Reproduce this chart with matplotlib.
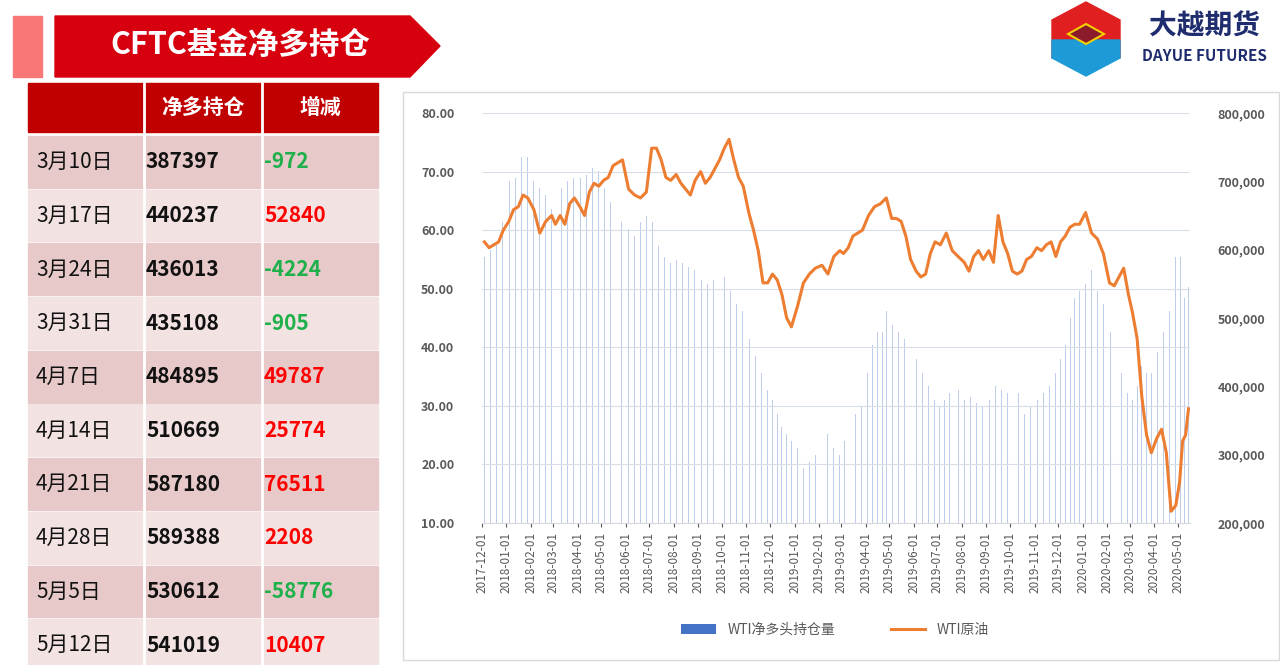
import numpy as np
import pandas as pd
import matplotlib.pyplot as plt
import matplotlib.dates as mdates
from matplotlib.patches import Rectangle, Polygon
from matplotlib.ticker import FuncFormatter

plt.rcParams['font.family'] = ['Noto Sans CJK SC', 'DejaVu Sans']

# table data
dates_cn = ["3月10日", "3月17日", "3月24日", "3月31日", "4月7日",
            "4月14日", "4月21日", "4月28日", "5月5日", "5月12日"]
net_long = ["387397", "440237", "436013", "435108", "484895",
            "510669", "587180", "589388", "530612", "541019"]
change = ["-972", "52840", "-4224", "-905", "49787",
          "25774", "76511", "2208", "-58776", "10407"]

# chart data, grouped by month (Dec 2017 .. May 2020)
months = pd.date_range("2017-12-01", "2020-05-01", freq="MS")
wti_price = [
    [58, 57, 57.5, 58, 60],
    [61.5, 63.5, 64, 66, 65.5], [63.5, 59.5, 61.5, 62.5], [61, 62.5, 61, 64.5, 65.5],
    [64, 62.5, 66.5, 68, 67.5], [68.5, 69, 71, 71.5, 72], [67, 66, 65.5, 66.5],
    [74, 74, 72, 69, 68.5], [69.5, 68, 67, 66, 68.5], [70, 68, 69, 70.5, 72],
    [74, 75.5, 72, 69, 67.5], [63, 60, 56.5, 51, 51], [52.5, 51.5, 49, 45, 43.5],
    [47, 51, 52.5, 53.5], [54, 52.5, 55.5, 56.5], [56, 57, 59, 59.5, 60],
    [62.5, 64, 64.5, 65.5], [62, 62, 61.5, 59, 55], [53, 52, 52.5, 56, 58],
    [57.5, 59.5, 56.5, 55.5], [54.5, 53, 55.5, 56.5, 55], [56.5, 54.5, 62.5, 58, 56],
    [53, 52.5, 53, 55, 55.5], [57, 56.5, 57.5, 58, 55.5], [58, 59, 60.5, 61, 61],
    [63, 59.5, 58.5, 56], [51, 50.5, 52, 53.5, 49], [46, 41.5, 31.5, 25, 22],
    [24.5, 26, 22, 12, 13], [17, 24, 25, 29.5],
]
wti_net_long = [
    [590, 600, 610, 640],
    [700, 705, 735, 735], [700, 690, 680, 660], [680, 690, 700, 705],
    [705, 710, 720, 715], [690, 670, 650, 640], [630, 620, 640, 650],
    [640, 605, 590, 580], [585, 580, 575, 570], [555, 550, 555, 545],
    [560, 540, 520, 510], [470, 445, 420, 395], [380, 360, 340, 330, 320],
    [310, 280, 290, 300], [320, 330, 310, 300], [320, 340, 360, 370],
    [420, 460, 480, 480, 510], [490, 480, 470, 465], [440, 420, 400, 380],
    [370, 380, 390, 400, 395], [380, 385, 375, 370], [380, 400, 395, 390],
    [400, 390, 360, 370], [380, 390, 400, 420], [440, 460, 500, 530, 540],
    [550, 570, 540, 520], [480, 450, 420, 390], [380, 400, 430, 420, 420],
    [450, 480, 510, 590], [590, 530, 545],
]


def spread(month_start, vals, frac=1.0):
    days = pd.Timedelta(days=30 * frac)
    return [month_start + days * (i + 0.5) / len(vals) for i in range(len(vals))]


price_x, price_y, bar_x, bar_y = [], [], [], []
for m, p, b in zip(months, wti_price, wti_net_long):
    frac = 0.5 if m == months[-1] else 1.0
    price_x += spread(m, p, frac)
    price_y += p
    bar_x += spread(m, b, frac)
    bar_y += [v * 1000 for v in b]

fig = plt.figure(figsize=(12.8, 6.65), dpi=100)
W, H = 1280, 665


def box(x, y, w, h, color, **kw):
    fig.patches.append(Rectangle((x / W, 1 - (y + h) / H), w / W, h / H,
                                 transform=fig.transFigure, color=color, **kw))


def txt(x, y, s, **kw):
    fig.text(x / W, 1 - y / H, s, va='center', **kw)


# title banner
box(13, 16, 29, 61, '#F87878')
pts = [(55, 16), (410, 16), (440, 46), (410, 77), (55, 77)]
fig.patches.append(Polygon([(px / W, 1 - py / H) for px, py in pts], closed=True,
                           transform=fig.transFigure, color='#D7000F'))
txt(240, 45, "CFTC基金净多持仓", color='white', fontsize=22, fontweight='bold', ha='center')

# table
cols = [28, 144, 262, 378]
box(28, 83, 350, 49, '#C00000')
txt(203, 107, "净多持仓", color='white', fontsize=15, fontweight='bold', ha='center')
txt(320, 107, "增减", color='white', fontsize=15, fontweight='bold', ha='center')
for xc in cols[1:3]:
    fig.lines.append(plt.Line2D([xc / W] * 2, [1 - 83 / H, 0], transform=fig.transFigure,
                                color='white', lw=2))
for i in range(10):
    top = 136 + i * 53.7
    box(28, top, 350, 51.7, '#E8C9C9' if i % 2 == 0 else '#F2E2E2', zorder=-1)
    cy = top + 26
    txt(36, cy, dates_cn[i], fontsize=15, color='#111111')
    txt(146, cy, net_long[i], fontsize=15, fontweight='bold', color='#111111')
    txt(264, cy, change[i], fontsize=15, fontweight='bold',
        color='#1DB04B' if change[i].startswith('-') else '#FF0000')

# logo
hexa = [(1086, 2), (1120, 20), (1120, 58), (1086, 76), (1052, 58), (1052, 20)]
fig.patches.append(Polygon([(px / W, 1 - py / H) for px, py in hexa[:3] + [(1086, 40)] + hexa[4:]],
                           transform=fig.transFigure, color='#E02020'))
fig.patches.append(Polygon([(px / W, 1 - py / H) for px, py in [(1052, 40), (1086, 40), (1120, 40), (1120, 58), (1086, 76), (1052, 58)]],
                           transform=fig.transFigure, color='#1E9BD7'))
fig.patches.append(Polygon([(px / W, 1 - py / H) for px, py in [(1068, 34), (1086, 24), (1104, 34), (1086, 44)]],
                           transform=fig.transFigure, color='#8B1A2A', ec='#F5D000', lw=1.5))
txt(1204, 26, "大越期货", fontsize=20, fontweight='bold', color='#1F2C6E', ha='center')
txt(1204, 56, "DAYUE FUTURES", fontsize=11, fontweight='bold', color='#1F2C6E', ha='center')

# chart panel
box(403, 92, 876, 568, 'none', ec='#D9D9D9', lw=1, fill=False)
ax = fig.add_axes([482 / W, 1 - 523 / H, 708 / W, 410 / H])
ax2 = ax.twinx()
ax.set_zorder(ax2.get_zorder() + 1)
ax.patch.set_visible(False)

ax2.bar(bar_x, bar_y, width=1.2, color='#4472C4', alpha=0.35, label="WTI净多头持仓量")
ax2.set_ylim(200000, 800000)
ax2.set_yticks(np.arange(200000, 800001, 100000))
ax2.yaxis.set_major_formatter(FuncFormatter(lambda v, p: f"{int(v):,}"))

ax.plot(price_x, price_y, color='#ED7D31', lw=2.2, label="WTI原油")
ax.set_ylim(10, 80)
ax.set_yticks(np.arange(10, 81, 10))
ax.yaxis.set_major_formatter(FuncFormatter(lambda v, p: f"{v:.2f}"))
ax.set_xlim(pd.Timestamp("2017-12-01"), pd.Timestamp("2020-05-16"))
ax.xaxis.set_major_locator(mdates.MonthLocator())
ax.xaxis.set_major_formatter(mdates.DateFormatter("%Y-%m-%d"))
for lbl in ax.get_xticklabels():
    lbl.set_rotation(90)
ax.tick_params(axis='x', labelsize=8.5, colors='#595959', length=3)
ax.tick_params(axis='y', labelsize=9, colors='#595959', length=0, pad=20)
ax2.tick_params(axis='y', labelsize=9, colors='#595959', length=0, pad=20)
for a in (ax, ax2):
    for s in a.spines.values():
        s.set_visible(False)
ax.spines['bottom'].set_visible(True)
ax.spines['bottom'].set_color('#D9D9D9')
ax.grid(axis='y', color='#D9DDE8', lw=0.8)
for lbl in ax.get_yticklabels() + ax2.get_yticklabels():
    lbl.set_fontweight('bold')

h1, l1 = ax2.get_legend_handles_labels()
h2, l2 = ax.get_legend_handles_labels()
fig.legend(h1 + h2, l1 + l2, loc='center', bbox_to_anchor=(835 / W, 1 - 630 / H), ncol=2,
           frameon=False, fontsize=10, columnspacing=4, handlelength=2.5,
           labelcolor='#595959')
for h in fig.legends[0].legend_handles[:1]:
    h.set_alpha(1)

fig.savefig("out.png", dpi=100)
